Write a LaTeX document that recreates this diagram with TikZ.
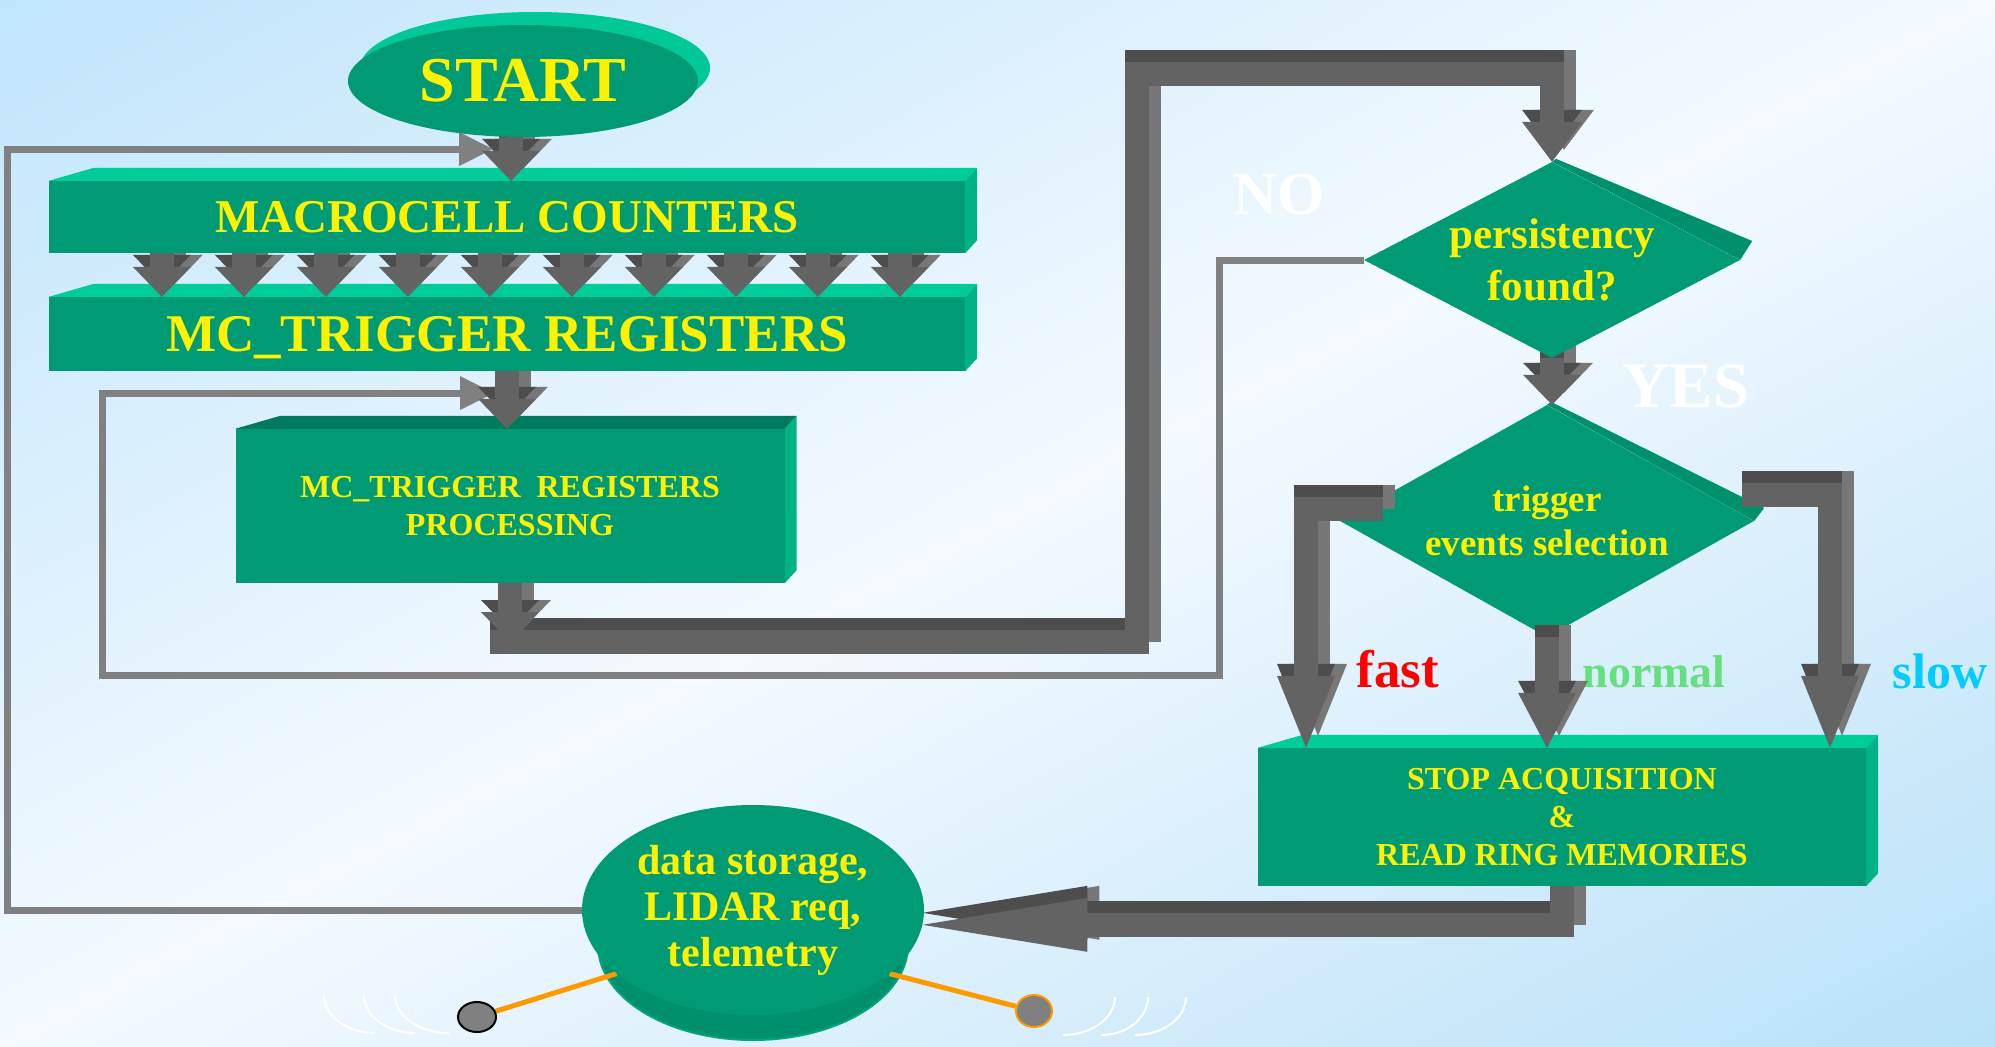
\documentclass[tikz,border=0pt]{standalone}
\usepackage{fontspec}
\setmainfont{Liberation Serif}
\usetikzlibrary{shapes.geometric,arrows.meta,calc}

\definecolor{boxfront}{HTML}{009B74}
\definecolor{boxtop}{HTML}{00CC99}
\definecolor{boxside}{HTML}{00B386}
\definecolor{boxdark}{HTML}{007A5C}
\definecolor{startback}{HTML}{00C896}
\definecolor{diamondtop}{HTML}{00916C}
\definecolor{discside}{HTML}{00906B}
\definecolor{discrim}{HTML}{00A67C}
\definecolor{pipefront}{HTML}{636363}
\definecolor{pipetop}{HTML}{4D4D4D}
\definecolor{pipeside}{HTML}{777777}
\definecolor{loopgray}{HTML}{808080}
\definecolor{wireorange}{HTML}{FF9900}
\definecolor{normalgreen}{HTML}{66E07E}
\definecolor{slowcyan}{HTML}{00CCFF}
\definecolor{bgblue}{HTML}{C0E5FB}
\definecolor{bgwhite}{HTML}{F4FAFF}
\definecolor{bgblue2}{HTML}{B8E1F8}

\pgfdeclarelayer{background}
\pgfdeclarelayer{faces}
\pgfdeclarelayer{front}
\pgfdeclarelayer{top}
\pgfsetlayers{background,faces,main,front,top}

\def\pipedepth{12pt}
\newcommand{\fsize}[2]{\fontsize{#1}{#2}\selectfont\bfseries}

% a block arrow is drawn three times: side, top, then front
\newcommand{\blockpipe}[2][]{%
  \draw[pipe,#1,draw=pipeside,transform canvas={xshift=\pipedepth,yshift=\pipedepth}] #2;
  \draw[pipe,#1,draw=pipetop,transform canvas={yshift=\pipedepth}] #2;
  \draw[pipe,#1,draw=pipefront] #2;}

% top and right faces of a box node
\newcommand{\boxfaces}[3]{%
  \fill[#2] (#1.north west) -- ++(45,-13) -- ($(#1.north east)+(12,-13)$) -- (#1.north east) -- cycle;
  \fill[#3] (#1.north east) -- ++(12,-13) -- ($(#1.south east)+(12,-13)$) -- (#1.south east) -- cycle;}

\begin{document}
\begin{tikzpicture}[x=1pt,y=-1pt]
	\tikzstyle{box}=[rectangle,fill=boxfront,text=yellow,inner sep=0pt,align=center]
	\tikzstyle{decision}=[diamond,fill=boxfront,text=yellow,inner sep=0pt,align=center]
	\tikzstyle{terminal}=[ellipse,fill=boxfront,text=yellow,inner sep=0pt,align=center]
	\tikzstyle{pipe}=[line width=24pt]
	\tikzstyle{short tip}=[-{Triangle[length=30pt,width=58pt,line width=0pt]}]
	\tikzstyle{long tip}=[-{Triangle[length=72pt,width=58pt,line width=0pt]}]
	\tikzstyle{loop line}=[draw=loopgray,line width=7pt,-{Triangle[length=34pt,width=34pt,line width=0pt]}]
	\tikzstyle{branch text}=[anchor=base,inner sep=0pt]
	\tikzstyle{wire}=[draw=wireorange,line width=5pt]
	\tikzstyle{antenna}=[ellipse,fill=loopgray,line width=2pt,minimum width=38pt,minimum height=30pt,inner sep=0pt]
	\tikzstyle{wave}=[draw=white,line width=2pt]

	\useasboundingbox (0,0) rectangle (1995,1047);

	% Draw the background, light along the rising diagonal
	\begin{pgfonlayer}{background}
	\begin{scope}
	\clip (0,0) rectangle (1995,1047);
	\shade[top color=bgblue,bottom color=bgblue2,middle color=bgwhite,
		transform canvas={rotate around={27.7:(997.5,523.5)}}]
		(-202.5,-406.5) rectangle (2197.5,1453.5);
	\end{scope}
	\end{pgfonlayer}

	% Draw the front faces of all the blocks
	\begin{pgfonlayer}{front}
	\node[terminal,minimum width=350pt,minimum height=112pt,font=\fsize{64}{70}] (start) at (523,81) {START};
	\node[box,minimum width=916pt,minimum height=72pt,font=\fsize{47}{56}] (mc) at (507,217) {MACROCELL COUNTERS};
	\node[box,minimum width=916pt,minimum height=74pt,text depth=0pt,font=\fsize{53}{60}] (reg) at (507,334) {MC\_TRIGGER REGISTERS};
	\node[box,minimum width=549pt,minimum height=154pt,font=\fsize{32}{38}] (proc) at (510,506)
		{MC\_TRIGGER\ \ REGISTERS\\PROCESSING};
	\node[decision,shape aspect=1.9,minimum width=376pt,minimum height=196pt,font=\fsize{43}{52}] (pers) at (1552,260)
		{persistency\\found?};
	\node[decision,shape aspect=1.8,minimum width=414pt,minimum height=232pt,font=\fsize{37}{44}] (trig) at (1547,521)
		{trigger\\events selection};
	\node[box,minimum width=608pt,minimum height=138pt,font=\fsize{32}{38}] (stop) at (1562,817)
		{STOP ACQUISITION\\\&\\READ RING MEMORIES};
	\node[terminal,minimum width=342pt,minimum height=210pt,font=\fsize{42}{46}] (data) at (753,910)
		{data storage,\\LIDAR req,\\telemetry};
	\end{pgfonlayer}

	% Draw the depth of the blocks
	\begin{pgfonlayer}{faces}
	\fill[startback] ([shift={(12,-13)}]start.center) ellipse [x radius=175pt,y radius=56pt];
	\boxfaces{mc}{boxtop}{boxside}
	\boxfaces{reg}{boxtop}{boxside}
	\boxfaces{proc}{boxdark}{boxside}
	\boxfaces{stop}{boxtop}{boxside}
	\fill[diamondtop] (pers.north) -- (pers.east) -- ++(12,-19) -- ($(pers.north)+(4,-3)$) -- cycle;
	\fill[diamondtop] (trig.north) -- (trig.east) -- ++(10,-13) -- ($(trig.north)+(4,-3)$) -- cycle;
	\fill[discside,draw=discrim,line width=2pt] ([yshift=-35pt]data.center) ellipse [x radius=155pt,y radius=95pt];
	\end{pgfonlayer}

	% Feedback loops
	\coordinate (outer in) at (493,149);
	\coordinate (inner in) at (494,393);
	\draw[loop line] (data.west) -| (7,149) -- (outer in);
	\draw[loop line] (pers.west) -| (1219,675) -| (102,393) -- (inner in);

	% Connect the counters with the trigger registers
	\foreach \dx in {113,195,...,851}
	{\blockpipe[short tip]{([xshift=\dx pt]mc.south west) -- ([xshift=\dx pt]reg.north west)}}

	\blockpipe[short tip]{($(start.south)+(-12,0)$) -- ($(start.south |- mc.north)+(-12,0)$)}
	\blockpipe[short tip]{(reg.south) -- (reg.south |- proc.north)}

	% Processing output goes round to the persistency check
	\coordinate (bar) at (490,642);
	\blockpipe[-{Triangle[length=40pt,width=60pt,line width=0pt]}]{(bar) -| (1137,74) -| (pers.north)}
	\blockpipe[short tip]{(proc.south) -- (proc.south |- bar)}
	\blockpipe[short tip]{(pers.south) -- (pers.south |- trig.north)}
	\blockpipe[-{Triangle[length=165pt,width=54pt,line width=0pt]}]{(stop.south) |- (data.-5)}

	% The three selection branches
	\begin{pgfonlayer}{top}
	\blockpipe[long tip]{([shift={(43,-12)}]trig.west) -| ([xshift=-256pt]stop.north)}
	\blockpipe[-{Triangle[length=55pt,width=58pt,line width=0pt]}]{(trig.south) -- (trig.south |- stop.north)}
	\blockpipe[long tip]{([shift={(-12,-26)}]trig.east) -| ([xshift=268pt]stop.north)}
	\end{pgfonlayer}

	% Annotate the branches
	\node[branch text,text=white,font=\fsize{61}{61}] (no) at (1279,214) {NO};
	\node[branch text,text=white,font=\fsize{65}{65}] (yes) at (1686,407) {YES};
	\node[branch text,text=red,font=\fsize{53}{53}] (fast) at (1398,687) {fast};
	\node[branch text,text=normalgreen,font=\fsize{46}{46}] (normal) at (1654,687) {normal};
	\node[branch text,text=slowcyan,font=\fsize{50}{50}] (slow) at (1940,688) {slow};

	% Antennas of the storage unit
	\node[antenna,draw=black] (ant left) at (477,1017) {};
	\node[antenna,draw=wireorange,minimum width=36pt,minimum height=32pt] (ant right) at (1034,1011) {};
	\begin{pgfonlayer}{faces}
	\draw[wire] (ant left) -- (data.205);
	\draw[wire] (ant right) -- (data.-25);
	\end{pgfonlayer}
	\foreach \x/\r in {324/51,364/51,395/54}
	\draw[wave] (\x,995) arc[start angle=180,end angle=270,x radius=\r pt,y radius=38pt];
	\foreach \x/\r in {1063/52,1101/47,1135/51}
	\draw[wave] (\x,1035) arc[start angle=270,end angle=360,x radius=\r pt,y radius=38pt];
\end{tikzpicture}
\end{document}
